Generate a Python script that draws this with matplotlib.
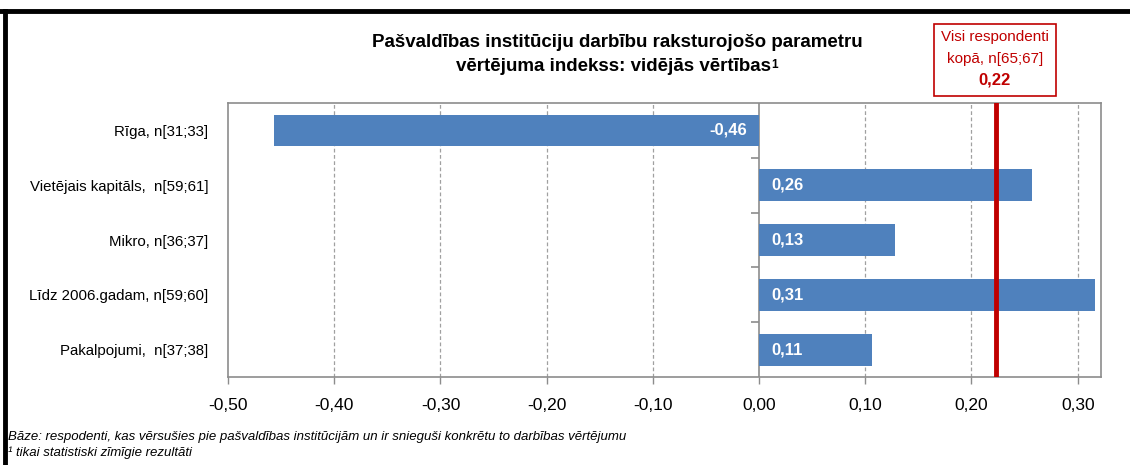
import matplotlib.pyplot as plt
from matplotlib.patches import Rectangle
from matplotlib.lines import Line2D

# dati
kategorijas = ['Rīga, n[31;33]', 'Vietējais kapitāls,  n[59;61]', 'Mikro, n[36;37]',
               'Līdz 2006.gadam, n[59;60]', 'Pakalpojumi,  n[37;38]']
vertibas = [-0.457, 0.257, 0.128, 0.316, 0.106]
vertibu_teksti = ['-0,46', '0,26', '0,13', '0,31', '0,11']
kopa = 0.223
kopa_teksts = '0,22'
x_ticks = [-0.5, -0.4, -0.3, -0.2, -0.1, 0.0, 0.1, 0.2, 0.3]
x_tick_teksti = ['-0,50', '-0,40', '-0,30', '-0,20', '-0,10', '0,00', '0,10', '0,20', '0,30']

plt.rcParams['font.family'] = ['Liberation Sans Narrow', 'Liberation Sans', 'DejaVu Sans']

zils = '#4F81BD'
sarkans = '#C00000'
peleks = '#8C8C8C'

fig = plt.figure(figsize=(11.3, 4.65), dpi=100)
ax = fig.add_axes([0.2018, 0.1892, 0.7726, 0.5892])

y = list(range(len(kategorijas)))
ax.barh(y, vertibas, height=0.58, color=zils, zorder=3)

for i, (v, t) in enumerate(zip(vertibas, vertibu_teksti)):
    if v < 0:
        ax.text(-0.011, i, t, ha='right', va='center', color='white',
                fontsize=12, fontweight='bold', zorder=4)
    else:
        ax.text(0.012, i, t, ha='left', va='center', color='white',
                fontsize=12, fontweight='bold', zorder=4)

# vidējā vērtība
ax.axvline(kopa, color=sarkans, lw=3.5, zorder=5)

ax.set_xlim(-0.5, 0.322)
ax.set_ylim(len(kategorijas) - 0.5, -0.5)
ax.set_xticks(x_ticks)
ax.set_xticklabels(x_tick_teksti, fontsize=12.5)
ax.set_yticks(y)
ax.set_yticklabels(kategorijas, fontsize=10.8)
ax.tick_params(axis='y', length=0, pad=14)
ax.tick_params(axis='x', length=5, color=peleks, width=1, pad=10, direction='out')

# režģis
for xt in x_ticks[1:]:
    if xt != 0:
        ax.axvline(xt, color='#A0A0A0', lw=0.9, ls=(0, (3, 2)), zorder=1)
# y ass pie nulles
ax.axvline(0, color=peleks, lw=1.2, zorder=2)
robezas = [i + 0.5 for i in range(len(kategorijas) - 1)]
ax.hlines(robezas, -0.0075, 0, color=peleks, lw=1.2, zorder=2)

for s in ax.spines.values():
    s.set_color(peleks)
    s.set_linewidth(1.2)

# virsraksts
fig.text(0.546, 0.909, 'Pašvaldības institūciju darbību raksturojošo parametru',
         ha='center', va='center', fontsize=13.5, fontweight='bold')
t2 = fig.text(0.543, 0.857, 'vērtējuma indekss: vidējās vērtības',
              ha='center', va='center', fontsize=13.5, fontweight='bold')
ax.annotate('1', xy=(1, 1), xycoords=t2, xytext=(0, -0.5), textcoords='offset points',
            ha='left', va='top', fontsize=8.5, fontweight='bold')

# kopējās vērtības lodziņš
fig.add_artist(Rectangle((0.8265, 0.794), 0.108, 0.154, transform=fig.transFigure,
                         fill=False, edgecolor=sarkans, lw=1.2))
fig.text(0.8805, 0.921, 'Visi respondenti', ha='center', va='center', color=sarkans, fontsize=11)
fig.text(0.8805, 0.874, 'kopā, n[65;67]', ha='center', va='center', color=sarkans, fontsize=11)
fig.text(0.8805, 0.827, kopa_teksts, ha='center', va='center', color=sarkans,
         fontsize=12, fontweight='bold')

# piezīmes
fig.text(0.0075, 0.060, 'Bāze: respodenti, kas vērsušies pie pašvaldības institūcijām un ir snieguši konkrētu to darbības vērtējumu',
         ha='left', va='center', fontsize=9.5, style='italic')
fig.text(0.0075, 0.027, '¹ tikai statistiski zīmīgie rezultāti',
         ha='left', va='center', fontsize=9.5, style='italic')

# rāmis
fig.add_artist(Line2D([0, 1], [0.976, 0.976], transform=fig.transFigure, color='black', lw=3.5))
fig.add_artist(Line2D([0.0045, 0.0045], [0, 0.976], transform=fig.transFigure, color='black', lw=3.5))

fig.savefig('out.png', dpi=100)
